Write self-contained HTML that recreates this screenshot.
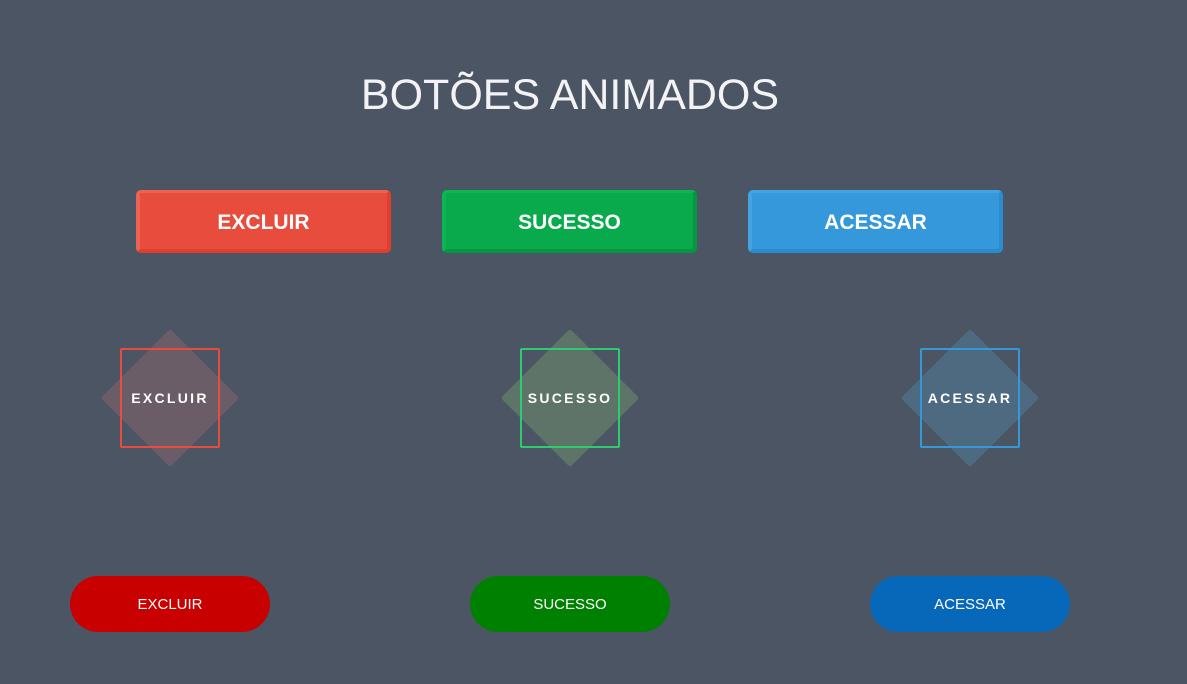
<!DOCTYPE html>
<html><head><style>
body{margin:0;width:1187px;height:684px;background:#4b5563;font-family:"Liberation Sans","DejaVu Sans",sans-serif;position:relative;overflow:hidden}
.t{position:absolute;left:0;width:1140px;top:71px;text-align:center;color:#f3f3f6;font-size:43px;}
.b{position:absolute;top:190px;width:255px;height:63px;box-sizing:border-box;border-radius:5px;color:#fff;font-weight:bold;font-size:21px;line-height:60px;text-align:center;border-left:4px solid;border-top:3px solid;border-right:4px solid;border-bottom:4px solid}
.d{position:absolute;top:348px;width:100px;height:100px}
.d .r{position:absolute;left:1px;top:1px;width:98px;height:98px;transform:rotate(45deg);border-radius:3px}
.d .s{position:absolute;left:0;top:0;width:96px;height:96px;border:2px solid;border-radius:2px}
.d .l{position:absolute;left:-30px;width:160px;top:42px;text-align:center;color:#fff;font-weight:bold;font-size:14px;letter-spacing:2.3px}
.p{position:absolute;top:576px;width:200px;height:56px;border-radius:28px;color:#fff;font-size:15px;line-height:58px;text-align:center}
</style></head><body>
<div class="t">BOTÕES ANIMADOS</div>
<div class="b" style="left:136px;background:#e74c3c;border-color:#ec6255 #e23e2f #e23e2f #ec6255">EXCLUIR</div>
<div class="b" style="left:442px;background:#09aa4b;border-color:#0bb550 #05963f #05963f #0bb550">SUCESSO</div>
<div class="b" style="left:748px;background:#3498db;border-color:#44a3e0 #2a8cd0 #2a8cd0 #44a3e0">ACESSAR</div>
<div class="d" style="left:120px"><div class="r" style="background:#6a5d68"></div><div class="s" style="border-color:#e74c3c"></div><div class="l">EXCLUIR</div></div>
<div class="d" style="left:520px"><div class="r" style="background:#5e7468"></div><div class="s" style="border-color:#2ecc71"></div><div class="l">SUCESSO</div></div>
<div class="d" style="left:920px"><div class="r" style="background:#4e6a80"></div><div class="s" style="border-color:#3498db"></div><div class="l">ACESSAR</div></div>
<div class="p" style="left:70px;background:#c80000">EXCLUIR</div>
<div class="p" style="left:470px;background:#008000">SUCESSO</div>
<div class="p" style="left:870px;background:#0767b8">ACESSAR</div>
</body></html>
